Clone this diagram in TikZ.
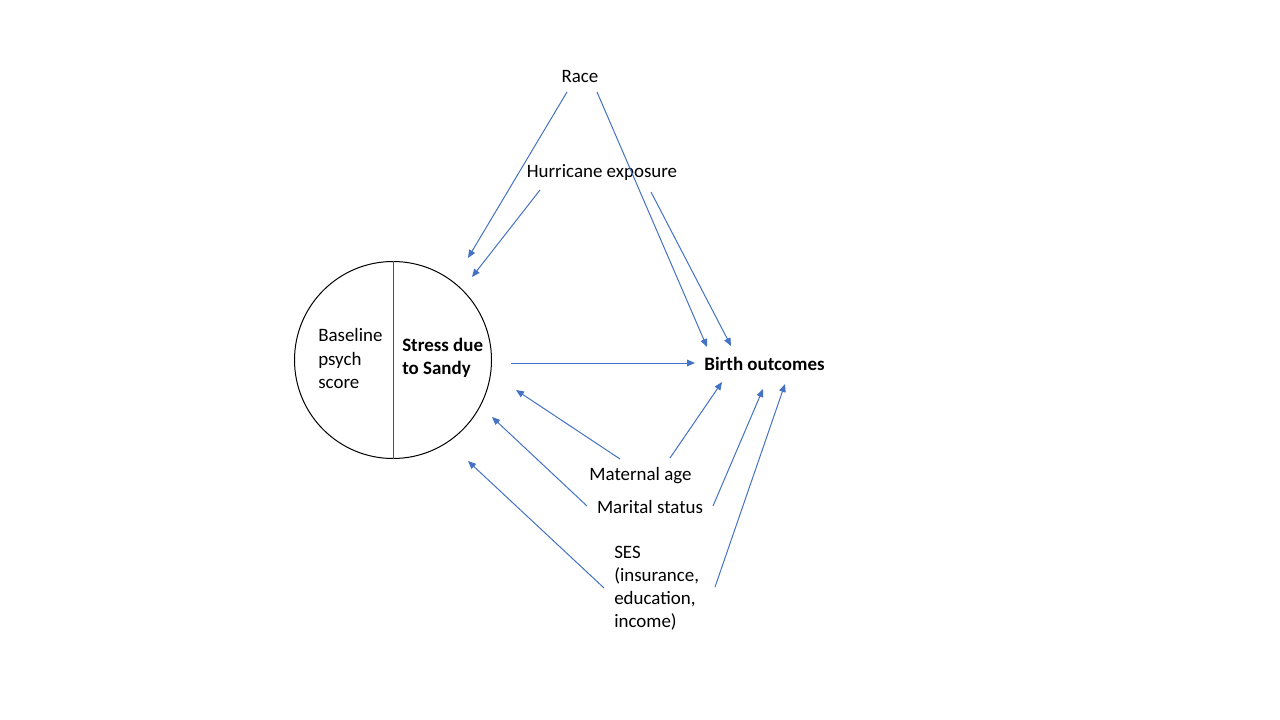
\documentclass[tikz,border=0pt]{standalone}
\usepackage{fontspec}
\setmainfont{Carlito}
\usetikzlibrary{arrows.meta}
\definecolor{arrblue}{HTML}{4472C4}
\definecolor{divblue}{HTML}{2F5597}
\begin{document}
\begin{tikzpicture}[x=0.75pt,y=-0.75pt,
  lbl/.style={inner sep=0pt,font=\fontsize{14.2}{17.3}\selectfont},
  arr/.style={draw=arrblue,line width=0.75pt,-{Triangle[length=6pt,width=5pt]}}]
\useasboundingbox (0,0) rectangle (1280,720);
\fill[white] (0,0) rectangle (1280,720);
% circle
\node[circle,draw=black,line width=0.75pt,minimum size=197*0.75pt,inner sep=0pt] (circ) at (393,360) {};
\draw[divblue,line width=0.75pt] (circ.north) -- (circ.south);
% labels
\node[lbl,align=left,anchor=west] (base) at (318,358.5) {Baseline\\psych\\score};
\node[lbl,align=left,anchor=west,font=\fontsize{14.2}{17.3}\selectfont\bfseries] (stress) at (402,357.5) {Stress due\\to Sandy};
\node[lbl,font=\fontsize{14.2}{17.3}\selectfont\bfseries] (birth) at (764.5,363.5) {Birth outcomes};
\node[lbl] (race) at (580,76.5) {Race};
\node[lbl] (hurr) at (602,172.5) {Hurricane exposure};
\node[lbl] (mage) at (640.5,475.5) {Maternal age};
\node[lbl] (mar) at (650,506.5) {Marital status};
\node[lbl,align=left,anchor=west] (ses) at (614,588) {SES\\(insurance,\\education,\\income)};
% arrow end points
\coordinate (raceA) at (567,92);   \coordinate (circT1) at (468,258);
\coordinate (raceB) at (597,92);   \coordinate (birthT1) at (707,347);
\coordinate (hurrA) at (540,190);  \coordinate (circT2) at (472,277);
\coordinate (hurrB) at (651,192);  \coordinate (birthT2) at (731,346);
\coordinate (stressR) at (511,363);\coordinate (birthL) at (695,363);
\coordinate (mageA) at (620,459);  \coordinate (circR1) at (516,390);
\coordinate (mageB) at (670,458);  \coordinate (birthB1) at (722,382);
\coordinate (marA) at (587,506);   \coordinate (circR2) at (492,417);
\coordinate (marB) at (713,506);   \coordinate (birthB2) at (763,389);
\coordinate (sesA) at (604,588);   \coordinate (circR3) at (468,461);
\coordinate (sesB) at (715,587);   \coordinate (birthB3) at (785,384);
% connectors
\draw[arr] (raceA) -- (circT1);
\draw[arr] (raceB) -- (birthT1);
\draw[arr] (hurrA) -- (circT2);
\draw[arr] (hurrB) -- (birthT2);
\draw[arr] (stressR) -- (birthL);
\draw[arr] (mageA) -- (circR1);
\draw[arr] (mageB) -- (birthB1);
\draw[arr] (marA) -- (circR2);
\draw[arr] (marB) -- (birthB2);
\draw[arr] (sesA) -- (circR3);
\draw[arr] (sesB) -- (birthB3);
\end{tikzpicture}
\end{document}
